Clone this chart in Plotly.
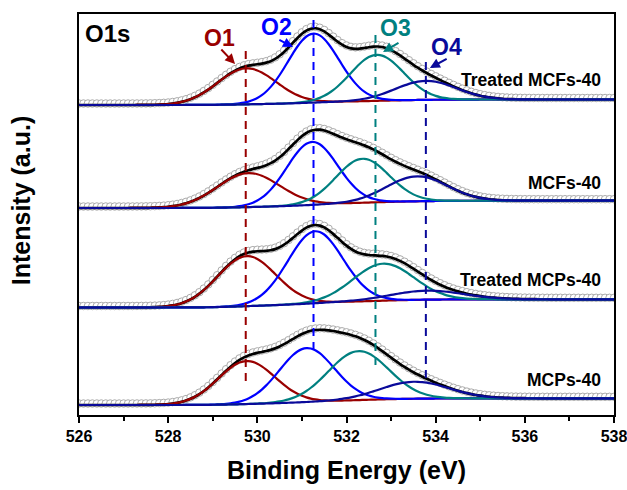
import numpy as np
import plotly.graph_objects as go

# Binding-energy grid of the O1s scan (eV)
energy = np.round(np.arange(526.0, 538.0001, 0.1), 2)

# Spectra, stacked from top to bottom
samples = ["Treated MCFs-40", "MCFs-40", "Treated MCPs-40", "MCPs-40"]

# Background level at the low / high binding-energy ends (a.u., includes stack offset)
bg_low = [310.0, 207.0, 107.5, 10.0]
bg_high = [315.5, 214.3, 115.7, 16.7]

# Fitted O1s components per spectrum: O1, O2, O3, O4
comp_names = ["O1", "O2", "O3", "O4"]
centers = [
    [529.76, 531.26, 532.68, 533.78],
    [529.80, 531.23, 532.36, 533.58],
    [529.76, 531.30, 532.83, 533.80],
    [529.76, 531.11, 532.27, 533.52],
]
heights = [
    [36.0, 69.0, 46.0, 19.0],
    [34.0, 63.0, 44.0, 25.0],
    [50.0, 72.0, 37.0, 9.0],
    [43.0, 54.0, 49.0, 17.0],
]
fwhm = [
    [1.55, 1.35, 1.40, 1.60],
    [1.65, 1.35, 1.40, 1.60],
    [1.55, 1.45, 1.60, 1.90],
    [1.50, 1.45, 1.60, 1.80],
]

comp_colors = ["#990000", "#0000FF", "#008080", "#0A0A9A"]

# Reference positions of the four oxygen species (eV) and extent of the guide lines
guide_pos = [529.74, 531.26, 532.65, 533.78]
guide_top = [368, 399, 380, 357]
guide_bottom = [34, 65, 50, 37]

x_ticks = [526, 528, 530, 532, 534, 536, 538]

FONT = "Liberation Sans, Arial"


def gauss(x, c, h, w):
    s = w / 2.3548
    return h * np.exp(-((x - c) ** 2) / (2 * s * s))


fig = go.Figure()

for k, name in enumerate(samples):
    peaks = [gauss(energy, centers[k][j], heights[k][j], fwhm[k][j]) for j in range(4)]
    total = np.sum(peaks, axis=0)
    # Shirley-type step background following the integrated peak area
    cum = np.cumsum(total)
    bg = bg_low[k] + (bg_high[k] - bg_low[k]) * cum / cum[-1]
    envelope = bg + total

    fig.add_trace(go.Scatter(
        x=energy, y=envelope + 1.5, mode="markers",
        marker=dict(symbol="circle", size=7.5, color="white",
                    line=dict(color="#ababab", width=1)),
        showlegend=False, hoverinfo="skip"))
    fig.add_trace(go.Scatter(
        x=energy, y=envelope, mode="lines",
        line=dict(color="black", width=2.7, shape="spline"),
        showlegend=False))
    for j in range(4):
        fig.add_trace(go.Scatter(
            x=energy, y=bg + peaks[j], mode="lines",
            line=dict(color=comp_colors[j], width=2.2, shape="spline"),
            showlegend=False))

# Dashed guide lines at the component positions
for j in range(4):
    fig.add_trace(go.Scatter(
        x=[guide_pos[j], guide_pos[j]], y=[guide_bottom[j], guide_top[j]],
        mode="lines", line=dict(color=comp_colors[j], width=2, dash="8px,6px"),
        showlegend=False))

annotations = []

# Sample names at the right of each spectrum
label_y = [335, 232, 135, 35]
for k, name in enumerate(samples):
    annotations.append(dict(
        x=537.75, y=label_y[k], xref="x", yref="y", text=name, showarrow=False,
        xanchor="right", yanchor="middle",
        font=dict(family=FONT, size=17.5, color="black", weight="bold")))

annotations.append(dict(
    x=526.08, y=382, xref="x", yref="y", text="O1s", showarrow=False,
    xanchor="left", yanchor="middle",
    font=dict(family=FONT, size=24, color="black", weight="bold")))

# Component labels with pointing arrows
lab_xy = [(529.16, 377), (530.42, 388), (533.11, 387), (534.25, 368)]
arrow_tail = [(529.16, 367), (530.46, 376), (533.20, 373), (534.28, 357)]
arrow_head = [(529.50, 351), (530.80, 368), (532.82, 363), (533.87, 347)]
for j in range(4):
    annotations.append(dict(
        x=lab_xy[j][0], y=lab_xy[j][1], xref="x", yref="y", text=comp_names[j],
        showarrow=False, xanchor="center", yanchor="middle",
        font=dict(family=FONT, size=23, color=comp_colors[j], weight="bold")))
    annotations.append(dict(
        x=arrow_head[j][0], y=arrow_head[j][1], ax=arrow_tail[j][0], ay=arrow_tail[j][1],
        xref="x", yref="y", axref="x", ayref="y", text="", showarrow=True,
        arrowhead=2, arrowsize=1, arrowwidth=2, arrowcolor=comp_colors[j]))

annotations.append(dict(
    x=-0.107, y=0.535, xref="paper", yref="paper", text="Intensity (a.u.)",
    showarrow=False, textangle=-90, xanchor="center", yanchor="middle",
    font=dict(family=FONT, size=25, color="black", weight="bold")))

fig.update_layout(
    width=627, height=490,
    margin=dict(l=79, r=13, t=14, b=75, autoexpand=False),
    paper_bgcolor="white", plot_bgcolor="white",
    annotations=annotations,
    xaxis=dict(
        range=[526, 538], tickmode="array", tickvals=x_ticks,
        ticktext=[str(t) for t in x_ticks], ticklabeloverflow="allow",
        automargin=False,
        ticks="outside", ticklen=6, tickwidth=1.5,
        tickcolor="black", showgrid=False, zeroline=False,
        showline=True, linecolor="black", linewidth=2, mirror=True,
        tickfont=dict(family=FONT, size=16, color="black", weight="bold"),
        minor=dict(tickmode="array", tickvals=[527, 529, 531, 533, 535, 537],
                   ticks="outside", ticklen=4, tickwidth=1.5, tickcolor="black"),
        title=dict(text="Binding Energy (eV)", standoff=17,
                   font=dict(family=FONT, size=25, color="black", weight="bold")),
    ),
    yaxis=dict(
        range=[0, 401], showticklabels=False, ticks="", showgrid=False, zeroline=False,
        automargin=False,
        showline=True, linecolor="black", linewidth=2, mirror=True,
    ),
)

fig.write_html("out.html")
